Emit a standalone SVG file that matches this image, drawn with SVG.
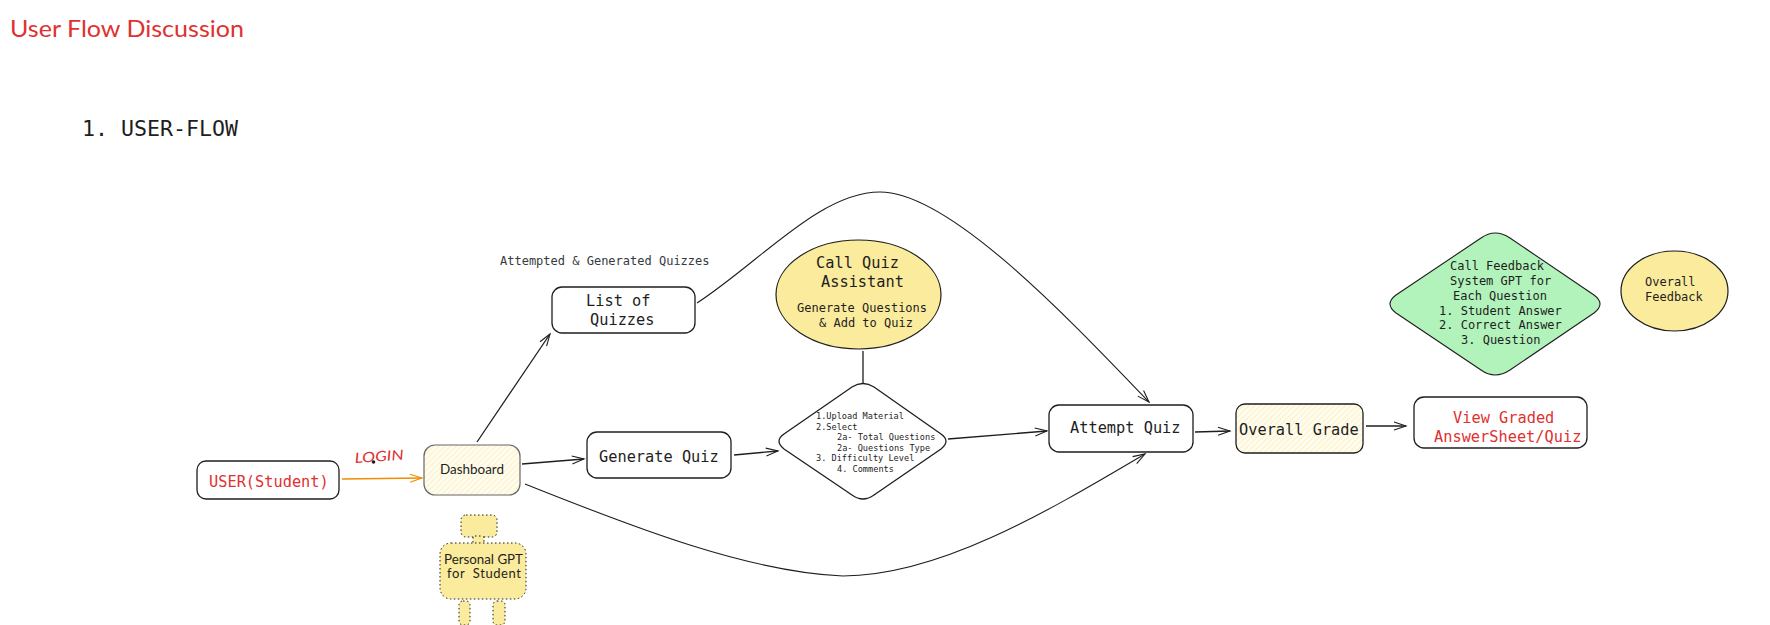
<svg xmlns="http://www.w3.org/2000/svg" width="1770" height="625" viewBox="0 0 1770 625">
<style>
text{font-family:"DejaVu Sans Mono","Liberation Mono",monospace;fill:#1e1e1e;white-space:pre}
.hand{font-family:"Lato","Noto Sans",sans-serif}
.red{fill:#e03131}
.box{fill:#fff;stroke:#1e1e1e;stroke-width:1.3}
.yel{fill:#fbeb9c;stroke:#1e1e1e;stroke-width:1.2}
.dot{fill:#fbeb9c;stroke:#1e1e1e;stroke-width:1;stroke-dasharray:1.5 2.5}
.c{fill:none;stroke:#1e1e1e;stroke-width:1.3;marker-end:url(#a)}
.f15{font-size:15.3px}.f12{font-size:12px}.f86{font-size:8.6px}
</style>
<defs>
<marker id="a" markerUnits="userSpaceOnUse" markerWidth="18" markerHeight="14" refX="13" refY="7" orient="auto">
<path d="M1 3 L13 7 L1 11" fill="none" stroke="#1e1e1e" stroke-width="1.1"/>
</marker>
<marker id="o" markerUnits="userSpaceOnUse" markerWidth="18" markerHeight="14" refX="13" refY="7" orient="auto">
<path d="M1 3 L13 7 L1 11" fill="none" stroke="#f08c00" stroke-width="1.1"/>
</marker>
<pattern id="h" patternUnits="userSpaceOnUse" width="4" height="4" patternTransform="rotate(-45)">
<rect width="4" height="4" fill="#fffef6"/>
<line x1="0" y1="2" x2="4" y2="2" stroke="#fdf0bd" stroke-width="1.2"/>
</pattern>
</defs>

<text class="hand red" x="10" y="37" font-size="23" textLength="234" lengthAdjust="spacingAndGlyphs">User Flow Discussion</text>
<text x="82" y="136" font-size="21.6">1. USER-FLOW</text>
<text x="500" y="265" class="f12" style="fill:#343a40">Attempted &amp; Generated Quizzes</text>

<g id="connectors">
<path class="c" style="stroke:#f08c00;marker-end:url(#o)" d="M342 479 L422 478"/>
<path class="c" d="M477 442 L550 334"/>
<path class="c" d="M522 464 L584 459"/>
<path class="c" d="M734 455 L778 451"/>
<path class="c" d="M948 439 L1047 431"/>
<path class="c" d="M1195 432 L1230 431"/>
<path class="c" d="M1366 426 L1406 426"/>
<path class="c" style="marker-end:none" d="M863 351 L863 383"/>
<path class="c" style="stroke-width:1.1" d="M697 303 C760 262 820 192 880 192 C950 192 1070 320 1149 402"/>
<path class="c" style="stroke-width:1.1" d="M525 484 C640 530 750 572 843 576 C940 576 1050 510 1145 454"/>
</g>

<g id="user"><rect class="box" x="197" y="461" width="142" height="38" rx="9"/>
<text class="f15 red" x="209" y="487">USER(Student)</text></g>

<g id="login"><text class="hand red" font-size="14" font-style="italic" transform="translate(355 463) rotate(-4)" textLength="49" lengthAdjust="spacingAndGlyphs">LOGIN</text>
<circle cx="373.500" cy="462" r="1.800" fill="#1e1e1e"/></g>

<g id="dashboard"><rect x="424" y="445" width="96" height="50" rx="11" fill="url(#h)" stroke="#666" stroke-width="1.2"/>
<text class="hand" x="440" y="474" font-size="13" textLength="64" lengthAdjust="spacingAndGlyphs">Dashboard</text></g>

<g id="personal-gpt">
<rect class="dot" x="461" y="515" width="36" height="22" rx="5"/>
<rect class="dot" x="473" y="536" width="11" height="9" rx="2"/>
<rect class="dot" x="440" y="543" width="86" height="56" rx="11"/>
<rect class="dot" x="459" y="601" width="11" height="24" rx="4"/>
<rect class="dot" x="493" y="601" width="12" height="24" rx="4"/>
<text class="hand" x="444" y="564" font-size="13" textLength="79" lengthAdjust="spacingAndGlyphs">Personal GPT</text>
<text class="hand" x="447" y="578" font-size="13" textLength="74" lengthAdjust="spacing">for  Student</text></g>

<g id="list"><rect class="box" x="552" y="287" width="143" height="46" rx="10"/>
<text class="f15" x="586" y="306">List of</text><text class="f15" x="590" y="325">Quizzes</text></g>

<g id="assistant"><ellipse class="yel" cx="858.500" cy="294.500" rx="82.500" ry="54.500"/>
<text class="f15" x="816" y="268">Call Quiz</text><text class="f15" x="821" y="287">Assistant</text>
<text class="f12" x="797" y="312">Generate Questions</text><text class="f12" x="819" y="327">&amp; Add to Quiz</text></g>

<g id="generate"><rect class="box" x="587" y="432" width="144" height="46" rx="10"/>
<text class="f15" x="599" y="462">Generate Quiz</text></g>

<g id="options"><path class="box" d="M852 387 Q863 380 874 387 L941 434 Q951 441 941 449 L874 495 Q863 503 852 495 L784 449 Q774 441 784 434 Z"/>
<text class="f86" x="816" y="419">1.Upload Material</text>
<text class="f86" x="816" y="430">2.Select</text>
<text class="f86" x="837" y="440">2a- Total Questions</text>
<text class="f86" x="837" y="451">2a- Questions Type</text>
<text class="f86" x="816" y="461">3. Difficulty Level</text>
<text class="f86" x="837" y="472">4. Comments</text></g>

<g id="attempt"><rect class="box" x="1049" y="405" width="144" height="47" rx="10"/>
<text class="f15" x="1070" y="433">Attempt Quiz</text></g>

<g id="grade"><rect x="1236" y="404" width="127" height="49" rx="9" fill="url(#h)" stroke="#1e1e1e" stroke-width="1.3"/>
<text class="f15" x="1239" y="435">Overall Grade</text></g>

<g id="view"><rect class="box" x="1414" y="397" width="173" height="51" rx="10"/>
<text class="f15 red" x="1453" y="423">View Graded</text><text class="f15 red" x="1434" y="442">AnswerSheet/Quiz</text></g>

<g id="feedback-gpt"><path d="M1481 238 Q1495 228 1510 238 L1594 295 Q1606 304 1594 313 L1510 370 Q1495 380 1481 370 L1396 313 Q1384 304 1396 295 Z" fill="#b2f2bb" stroke="#1e1e1e" stroke-width="1.1"/>
<text class="f12" x="1450" y="270">Call Feedback</text>
<text class="f12" x="1450" y="285">System GPT for</text>
<text class="f12" x="1453" y="300">Each Question</text>
<text class="f12" x="1439" y="315">1. Student Answer</text>
<text class="f12" x="1439" y="329">2. Correct Answer</text>
<text class="f12" x="1461" y="344">3. Question</text></g>

<g id="overall-feedback"><ellipse class="yel" cx="1674.500" cy="291" rx="53.500" ry="40"/>
<text class="f12" x="1645" y="286">Overall</text><text class="f12" x="1645" y="301">Feedback</text></g>
</svg>
